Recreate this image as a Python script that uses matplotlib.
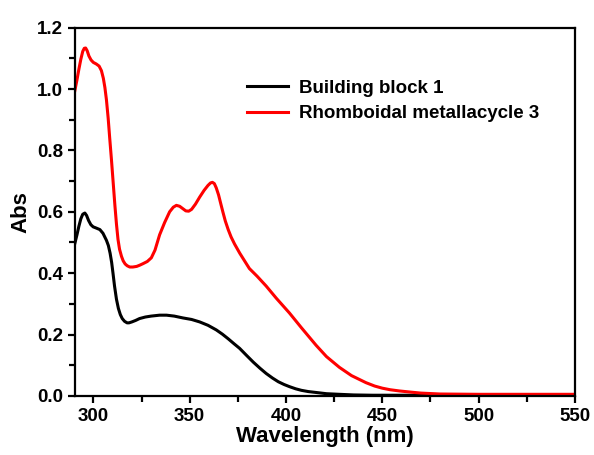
import matplotlib
matplotlib.use("Agg")
import matplotlib.pyplot as plt
from matplotlib.ticker import MultipleLocator

plt.rcParams['font.family'] = ['Liberation Sans', 'DejaVu Sans']
plt.rcParams['font.weight'] = 'bold'

# building block 1 (black)
wl_bb = [290.4, 291.5, 292.5, 293.5, 294.5, 295.6, 296.5, 297.5, 298.7, 299.9, 301.5,
         303.4, 305.0, 306.8, 307.8, 308.7, 309.5, 310.2, 311.0, 312.0, 313.0, 314.0,
         315.0, 316.2, 317.5, 318.5, 320.0, 322.0, 324.0, 327.0, 330.0, 334.4, 338.0,
         342.0, 346.5, 351.0, 355.2, 359.5, 363.8, 367.0, 370.0, 373.0, 375.9, 379.5,
         383.0, 386.5, 389.7, 393.0, 396.0, 399.0, 401.8, 405.0, 408.0, 411.5, 415.6,
         421.0, 427.7, 435.0, 445.0, 460.0, 500.0, 550.0]
abs_bb = [0.497, 0.525, 0.553, 0.577, 0.592, 0.596, 0.588, 0.572, 0.558, 0.551, 0.547,
          0.542, 0.53, 0.507, 0.49, 0.465, 0.435, 0.40, 0.358, 0.315, 0.285, 0.265,
          0.252, 0.243, 0.238, 0.238, 0.241, 0.246, 0.252, 0.257, 0.26, 0.263, 0.263,
          0.26, 0.254, 0.249, 0.241, 0.23, 0.215, 0.201, 0.186, 0.17, 0.155, 0.132,
          0.11, 0.09, 0.073, 0.058, 0.046, 0.037, 0.03, 0.023, 0.018, 0.014, 0.011,
          0.007, 0.005, 0.003, 0.002, 0.002, 0.002, 0.002]

# rhomboidal metallacycle 3 (red)
wl_rm = [290.4, 291.5, 292.5, 293.5, 294.5, 295.3, 296.0, 296.8, 297.7, 298.8, 300.0,
         301.5, 303.0, 304.2, 305.2, 306.0, 306.8, 307.7, 308.5, 309.4, 310.3, 311.2,
         312.0, 312.8, 313.6, 314.6, 315.5, 316.5, 317.6, 318.9, 320.5, 322.5, 324.1,
         325.8, 328.0, 330.1, 332.0, 334.4, 337.0, 339.6, 341.5, 343.1, 344.8, 346.5,
         348.0, 349.5, 351.0, 353.0, 355.2, 357.5, 359.5, 360.8, 361.8, 362.8, 363.8,
         365.0, 366.2, 367.3, 368.5, 370.0, 371.5, 373.3, 376.0, 378.5, 381.0, 385.0,
         389.7, 395.0, 401.8, 408.0, 415.6, 421.0, 427.7, 434.0, 441.5, 446.0, 450.0,
         454.0, 458.8, 465.0, 470.0, 480.0, 500.0, 550.0]
abs_rm = [0.995, 1.03, 1.065, 1.097, 1.123, 1.133, 1.134, 1.125, 1.108, 1.095, 1.087,
          1.082, 1.075, 1.06, 1.035, 1.005, 0.965, 0.905, 0.84, 0.77, 0.695, 0.62,
          0.56, 0.51, 0.478, 0.455, 0.44, 0.43, 0.424, 0.42, 0.42, 0.422, 0.426,
          0.431, 0.438, 0.45, 0.475, 0.525, 0.565, 0.6, 0.615, 0.621, 0.618, 0.61,
          0.603, 0.602, 0.608, 0.625, 0.648, 0.67, 0.686, 0.694, 0.696, 0.692, 0.678,
          0.655, 0.625, 0.598, 0.57, 0.542, 0.518, 0.495, 0.465, 0.44, 0.415, 0.39,
          0.358, 0.318, 0.27, 0.222, 0.165, 0.128, 0.093, 0.066, 0.043, 0.032, 0.025,
          0.02, 0.016, 0.012, 0.009, 0.006, 0.005, 0.005]

fig = plt.figure(figsize=(5.94, 4.55), dpi=100)
ax = fig.add_axes([0.126, 0.130, 0.842, 0.809])

ax.plot(wl_bb, abs_bb, color='black', lw=2.2, label='Building block 1')
ax.plot(wl_rm, abs_rm, color='red', lw=2.2, label='Rhomboidal metallacycle 3')

ax.set_xlim(290.4, 550)
ax.set_ylim(0, 1.2)
ax.xaxis.set_major_locator(MultipleLocator(50))
ax.xaxis.set_minor_locator(MultipleLocator(25))
ax.yaxis.set_major_locator(MultipleLocator(0.2))
ax.yaxis.set_minor_locator(MultipleLocator(0.1))
ax.yaxis.set_major_formatter(matplotlib.ticker.FormatStrFormatter('%.1f'))

for s in ax.spines.values():
    s.set_linewidth(1.6)
ax.tick_params(which='both', direction='out', width=1.6, labelsize=13.5,
               top=False, right=False)
ax.tick_params(which='major', length=5)
ax.tick_params(which='minor', length=4)

ax.set_xlabel('Wavelength (nm)', fontsize=16, fontweight='bold', labelpad=1)
ax.set_ylabel('Abs', fontsize=16, fontweight='bold', labelpad=4)

ax.legend(loc='upper left', bbox_to_anchor=(0.31, 0.905), frameon=False,
          fontsize=13.5, handlelength=2.2, handletextpad=0.6, labelspacing=0.45)

fig.savefig('out.png', dpi=100)
